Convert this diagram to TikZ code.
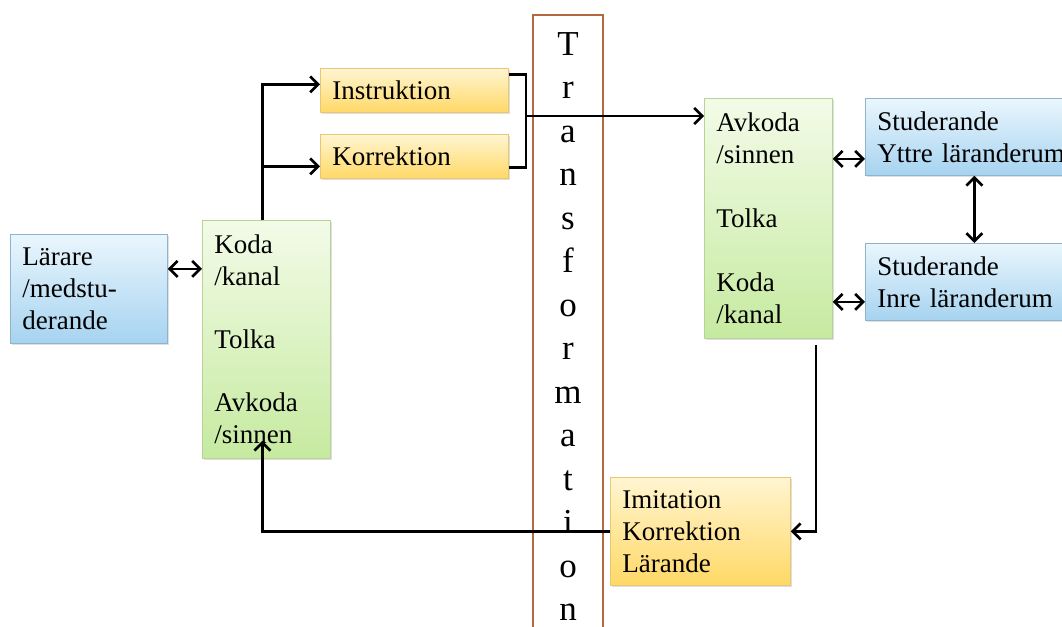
\documentclass[tikz,border=0pt]{standalone}
\usepackage{fontspec}
\setmainfont{Liberation Serif}
\usetikzlibrary{arrows.meta,shadows}

\definecolor{blueTop}{HTML}{EAF6FD}
\definecolor{blueBot}{HTML}{A6D3F0}
\definecolor{blueLine}{HTML}{8DB4CC}
\definecolor{greenTop}{HTML}{F3FBE8}
\definecolor{greenBot}{HTML}{C6EAA0}
\definecolor{greenLine}{HTML}{B7D396}
\definecolor{yellowTop}{HTML}{FFF5D2}
\definecolor{yellowBot}{HTML}{FFD866}
\definecolor{yellowLine}{HTML}{E9C76F}
\definecolor{bandLine}{HTML}{B4683E}

\begin{document}
\begin{tikzpicture}[x=0.5pt, y=-0.5pt,
	font=\fontsize{13.5pt}{16pt}\selectfont,
	box/.style={draw, anchor=north west, align=left, inner xsep=6pt, inner ysep=0pt,
		drop shadow={shadow xshift=1pt, shadow yshift=-1pt, opacity=0.25}},
	bluebox/.style={box, draw=blueLine, top color=blueTop, bottom color=blueBot},
	greenbox/.style={box, draw=greenLine, top color=greenTop, bottom color=greenBot},
	yellowbox/.style={box, draw=yellowLine, top color=yellowTop, bottom color=yellowBot},
	band/.style={draw=bandLine, line width=0.9pt, fill=white, anchor=north, inner sep=0pt},
	conn/.style={line width=1.3pt},
	arr/.style={conn, -{Straight Barb[length=4pt,width=8pt]}},
	dbl/.style={conn, {Straight Barb[length=4pt,width=8pt]}-{Straight Barb[length=4pt,width=8pt]}}]
	\useasboundingbox (0,0) rectangle (1062,627);

	% --- Transformation ---
	\node[band, minimum width=35pt, minimum height=320pt] (band) at (568,14) {};
	\node[anchor=north, inner sep=0pt, align=center, font=\fontsize{17.5pt}{21.75pt}\selectfont] (trans) at (568,32)
		{T\\r\\a\\n\\s\\f\\o\\r\\m\\a\\t\\i\\o\\n};

	% --- Lärare ---
	\node[bluebox, text width=66.5pt, minimum height=54.5pt] (larare) at (10,234) {Lärare\\/medstu-\\derande};
	\node[greenbox, text width=52pt, minimum height=119pt] (kodaL) at (202,220)
		{Koda\\/kanal\\[15.5pt]Tolka\\[15.5pt]Avkoda\\/sinnen};
	\node[yellowbox, text width=82pt, minimum height=22pt] (instr) at (320,68) {Instruktion};
	\node[yellowbox, text width=82pt, minimum height=22pt] (korr) at (320,134) {Korrektion};

	% --- Studerande ---
	\node[greenbox, text width=52pt, minimum height=120pt] (avkodaR) at (704,98)
		{Avkoda\\/sinnen\\[16pt]Tolka\\[16pt]Koda\\/kanal};
	\node[bluebox, text width=100pt, minimum height=38.5pt] (yttre) at (865,98) {Studerande\\Yttre läranderum};
	\node[bluebox, text width=100pt, minimum height=38.5pt] (inre) at (865,243) {Studerande\\Inre läranderum};
	\node[yellowbox, text width=78pt, minimum height=54pt] (imit) at (610,477) {Imitation\\Korrektion\\Lärande};

	% --- Pilar ---
	\draw[dbl] ([yshift=10pt]larare.east) -- ([yshift=10pt]larare.east -| kodaL.west);
	\draw[arr] ([xshift=-2pt]kodaL.north) |- ([yshift=3pt]instr.west);
	\draw[arr] ([xshift=-2pt]kodaL.north) |- ([yshift=-5pt]korr.west);
	\coordinate (join) at (526,116);
	\draw[conn] ([yshift=8pt]instr.east) -| (join) |- ([yshift=-5.5pt]korr.east);
	\draw[arr] (join) -- (join -| avkodaR.west);
	\draw[dbl] ([yshift=-11pt]yttre.west -| avkodaR.east) -- ([yshift=-11pt]yttre.west);
	\draw[dbl] ([yshift=-10pt]inre.west -| avkodaR.east) -- ([yshift=-10pt]inre.west);
	\draw[dbl] ([xshift=-1.5pt]yttre.south) -- ([xshift=-1.5pt]inre.north);
	\draw[arr] ([xshift=-8.5pt, yshift=-3pt]avkodaR.south east) |- (imit.east);
	\draw[arr] (imit.west) -| ([xshift=-2pt, yshift=9pt]kodaL.south);
\end{tikzpicture}
\end{document}
